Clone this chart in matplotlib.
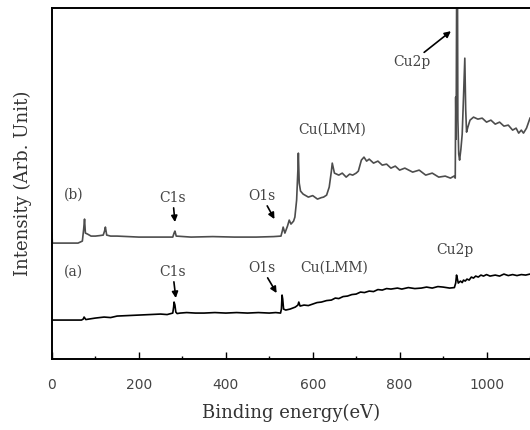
import matplotlib
matplotlib.use("Agg")
import matplotlib.pyplot as plt
from matplotlib.ticker import MultipleLocator

# survey spectra (binding energy in eV, intensity in arb. units)
energy_a = [0, 40, 68, 72, 74, 78, 85, 100, 120, 135,
            150, 175, 200, 225, 250, 265, 278, 280, 281, 283,
            285, 288, 295, 310, 330, 350, 375, 400, 425, 450,
            475, 500, 515, 526, 528, 529.5, 531, 533, 538, 548,
            560, 566, 568, 571, 580, 590, 600, 610, 620, 632,
            643, 652, 660, 670, 680, 690, 700, 710, 719, 730,
            740, 750, 760, 770, 780, 795, 805, 820, 835, 850,
            862, 875, 888, 900, 915, 926, 929, 931, 933, 935,
            940, 944, 947, 951, 955, 960, 965, 970, 975, 981,
            987, 993, 1000, 1008, 1020, 1030, 1040, 1050, 1060, 1070,
            1080, 1090, 1100]
intensity_a = [39, 39, 39, 40, 42, 39.5, 40, 41, 42, 41.5,
               43, 43.5, 44, 44.5, 45, 44.5, 46, 52, 57, 54,
               47, 45.5, 46, 46.5, 46, 46, 46.5, 46, 46.5, 46,
               46.5, 46, 46.5, 46, 50, 64, 60, 50, 49, 50,
               52, 54, 57, 53, 54, 53.5, 55, 56.5, 57, 58.5,
               59, 61, 60.5, 62.5, 63, 64.5, 65, 67, 66.5, 68,
               67.5, 69.5, 69, 70.5, 70, 71, 70, 71.5, 70.5, 71,
               72, 71, 72.5, 72, 71, 71.5, 76, 84, 80, 76,
               78, 76.5, 79, 78, 80, 79, 82, 81, 83, 82,
               84, 83, 84.5, 83, 84, 83, 85, 83.5, 84.5, 83.5,
               84.5, 84, 85]

energy_b = [0, 1, 20, 60, 70, 73, 75, 77, 82, 90,
            100, 110, 118, 121, 123, 126, 135, 150, 175, 200,
            240, 278, 281, 283, 286, 320, 370, 420, 470, 510,
            527, 530, 532, 536, 542, 546, 550, 556, 559, 563,
            566, 567, 569, 572, 578, 590, 600, 611, 620, 625,
            632, 638, 643, 645, 650, 660, 668, 677, 685, 692,
            700, 705, 712, 718, 724, 730, 740, 750, 760, 770,
            780, 790, 800, 812, 830, 845, 860, 875, 890, 905,
            917, 925, 928, 929, 930, 931.5, 933, 934, 936, 938,
            941, 944, 947, 950, 952, 954, 957, 962, 970, 980,
            990, 1000, 1010, 1020, 1030, 1040, 1050, 1060, 1068, 1074,
            1080, 1085, 1092, 1100]
intensity_b = [126, 116, 116, 116, 118, 130, 140, 126, 125, 123,
               123, 123.5, 124, 128, 132, 124, 123, 123, 122.5, 122,
               122, 122, 126, 128, 123, 122, 122.5, 122, 122, 122.5,
               123, 128, 132, 126, 133, 139, 135, 138, 142, 159,
               190, 206, 176, 168, 165, 162, 163.5, 160, 161.5, 162,
               164, 172, 188, 196, 186, 184, 186, 182, 185, 184,
               186, 188, 199, 202, 198, 200, 196, 198, 194, 195,
               191, 193, 189, 191, 187, 189, 184, 186, 182, 183,
               181, 183, 181, 262, 220, 400, 400, 240, 205, 199,
               210, 225, 262, 301, 250, 227, 232, 239, 242, 240,
               241, 237, 239, 235, 237, 233, 234, 229, 231, 226,
               229, 226, 231, 241]

fig = plt.figure(figsize=(5.3, 4.3), dpi=100)
ax = fig.add_axes([0.098, 0.165, 0.902, 0.816])
plt.rcParams['font.family'] = ['DejaVu Serif']

ax.plot(energy_b, intensity_b, color="#4d4d4d", lw=1.2)
ax.plot(energy_a, intensity_a, color="black", lw=1.2)

ax.set_xlim(0, 1100)
ax.set_ylim(0, 351)
ax.set_yticks([])
ax.xaxis.set_major_locator(MultipleLocator(200))
ax.xaxis.set_minor_locator(MultipleLocator(100))
ax.tick_params(axis="x", which="major", direction="in", length=5, width=1, pad=14,
               labelsize=10, labelcolor="#444444")
ax.tick_params(axis="x", which="minor", direction="in", length=2.5, width=1)
ax.spines["right"].set_visible(False)
for s in ["left", "top", "bottom"]:
    ax.spines[s].set_linewidth(1.4)

ax.set_xlabel("Binding energy(eV)", fontsize=13, family="DejaVu Serif", labelpad=8, color="#333333")
ax.set_ylabel("Intensity (Arb. Unit)", fontsize=13, family="DejaVu Serif", labelpad=14, color="#333333")

txt = dict(fontsize=10, family="DejaVu Serif", ha="center", va="center", color="#444444")
arr = dict(arrowstyle="-|>", color="black", lw=1.2, mutation_scale=9, shrinkA=0, shrinkB=0)

ax.text(50, 164, "(b)", **txt)
ax.text(50, 87, "(a)", **txt)
ax.annotate("C1s", xy=(283, 137), xytext=(278, 161), arrowprops=arr, **txt)
ax.annotate("C1s", xy=(285, 61), xytext=(278, 87), arrowprops=arr, **txt)
ax.annotate("O1s", xy=(512, 140), xytext=(483, 163), arrowprops=arr, **txt)
ax.annotate("O1s", xy=(517, 66), xytext=(483, 91), arrowprops=arr, **txt)
ax.text(645, 229, "Cu(LMM)", **txt)
ax.text(650, 91, "Cu(LMM)", **txt)
ax.annotate("Cu2p", xy=(918, 328), xytext=(828, 297), arrowprops=arr, **txt)
ax.text(926, 109, "Cu2p", **txt)

fig.savefig("out.png", dpi=100)
